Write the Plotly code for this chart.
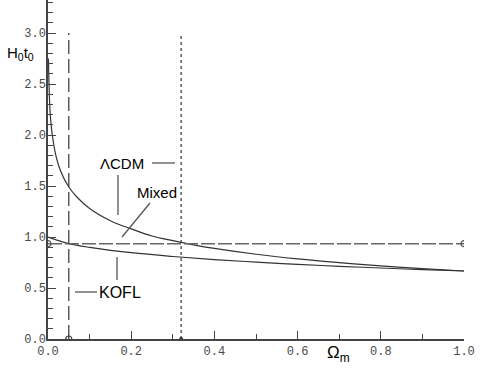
import plotly.graph_objects as go

# Data
omega_lcdm = [0.001, 0.005, 0.01, 0.02, 0.03, 0.05, 0.07, 0.1, 0.15, 0.2, 0.25, 0.3, 0.35, 0.4, 0.5, 0.6, 0.7, 0.8, 0.9, 1.0]
h0t0_lcdm = [2.75, 2.23, 2.01, 1.78, 1.65, 1.49, 1.39, 1.28, 1.16, 1.08, 1.01, 0.964, 0.923, 0.888, 0.831, 0.786, 0.749, 0.717, 0.690, 0.667]

omega_kofl = [0.0, 0.05, 0.1, 0.2, 0.3, 0.4, 0.5, 0.6, 0.7, 0.8, 0.9, 1.0]
h0t0_kofl = [1.0, 0.935, 0.898, 0.846, 0.809, 0.779, 0.754, 0.732, 0.713, 0.696, 0.680, 0.667]

omega_mixed = [0.0, 1.0]
h0t0_mixed = [0.935, 0.935]

vline_dashed_x = 0.05
vline_dotted_x = 0.32
vline_top = 3.0

x_ticks = [0.0, 0.2, 0.4, 0.6, 0.8, 1.0]
y_ticks = [0.0, 0.5, 1.0, 1.5, 2.0, 2.5, 3.0]

W, H = 485, 389
L, R, T, B = 48, 21, 0, 50
Y_MAX = 3.324

curve_col = "#333333"

fig = go.Figure()
fig.add_trace(go.Scatter(x=omega_lcdm, y=h0t0_lcdm, mode="lines",
                         line=dict(color=curve_col, width=1.2), line_shape="spline", hoverinfo="skip"))
fig.add_trace(go.Scatter(x=omega_kofl, y=h0t0_kofl, mode="lines",
                         line=dict(color=curve_col, width=1.2), line_shape="spline", hoverinfo="skip"))
fig.add_trace(go.Scatter(x=omega_mixed, y=h0t0_mixed, mode="lines+markers",
                         line=dict(color="#666666", width=1.5, dash="14px,3px"),
                         marker=dict(symbol="circle-open", size=6, color="#555555", line=dict(width=1.2)),
                         hoverinfo="skip"))
fig.add_trace(go.Scatter(x=[vline_dashed_x, vline_dashed_x], y=[0, vline_top], mode="lines",
                         line=dict(color="#333333", width=1.2, dash="14px,5px"), hoverinfo="skip"))
fig.add_trace(go.Scatter(x=[vline_dotted_x, vline_dotted_x], y=[0, vline_top], mode="lines",
                         line=dict(color="#333333", width=1.2, dash="dot"), hoverinfo="skip"))
fig.add_trace(go.Scatter(x=[vline_dashed_x], y=[0], mode="markers",
                         marker=dict(symbol="circle-open", size=6, color="#333333", line=dict(width=1.2)),
                         hoverinfo="skip"))
fig.add_trace(go.Scatter(x=[vline_dotted_x], y=[0], mode="markers",
                         marker=dict(symbol="circle", size=4, color="#333333"), hoverinfo="skip"))

def px_x(p):
    return (p - L) / (W - L - R)

def px_y(p):
    return (H - B - p) / (H - B - T) * Y_MAX

def paper_x(p):
    return (p - L) / (W - L - R)

def paper_y(p):
    return (H - B - p) / (H - B - T)

label_font = dict(family="Liberation Sans, Arial", size=15, color="black")
line_style = dict(color="#555555", width=1.3)

# callout lines
segs = [
    (152, 163, 175, 163),
    (118, 175, 118, 215),
    (150, 203, 122, 237),
    (75, 292, 97, 292),
    (117, 257, 117, 280),
]
for x0, y0, x1, y1 in segs:
    fig.add_shape(type="line", x0=px_x(x0), y0=px_y(y0), x1=px_x(x1), y1=px_y(y1),
                  xref="x", yref="y", line=line_style)

fig.add_annotation(x=px_x(122), y=px_y(163), text="ΛCDM", showarrow=False, font=label_font)
fig.add_annotation(x=px_x(157), y=px_y(192), text="Mixed", showarrow=False, font=label_font)
fig.add_annotation(x=px_x(120), y=px_y(292), text="KOFL", showarrow=False,
                   font=dict(family="Liberation Sans, Arial", size=16, color="black"))

fig.add_annotation(xref="paper", yref="paper", x=paper_x(5), y=paper_y(42),
                   xanchor="left", yanchor="top", text="H<sub>0</sub>t<sub>0</sub>", showarrow=False,
                   font=dict(family="Liberation Sans, Arial", size=15, color="black"))
fig.add_annotation(xref="paper", yref="paper", x=paper_x(325), y=paper_y(341),
                   xanchor="left", yanchor="top", text="Ω<sub>m</sub>", showarrow=False,
                   font=dict(family="Liberation Sans, Arial", size=17, color="black"))

tick_font = dict(family="Liberation Mono, Courier New", size=12, color="#4a4a4a")
axis_common = dict(showgrid=False, zeroline=False, showline=True, linecolor="#444444", linewidth=1.5,
                   ticks="inside", ticklen=8, tickcolor="#444444", tickwidth=1.2, tickfont=tick_font,
                   automargin=False,
                   minor=dict(ticks="inside", ticklen=5, dtick=0.1, tickcolor="#444444", tickwidth=1.2,
                              showgrid=False))
fig.update_layout(
    width=W, height=H, margin=dict(l=L, r=R, t=T, b=B, autoexpand=False),
    paper_bgcolor="white", plot_bgcolor="white", showlegend=False,
    xaxis=dict(range=[0, 1], tickvals=x_ticks, ticktext=[f"{v:.1f}" for v in x_ticks], **axis_common),
    yaxis=dict(range=[0, Y_MAX], tickvals=y_ticks, ticktext=[f"{v:.1f}" for v in y_ticks],
               ticklabelstandoff=-2, **axis_common),
)

fig.write_html("out.html", config={"displayModeBar": False},
               post_script="document.body.style.margin='0';document.body.style.overflow='hidden';")
